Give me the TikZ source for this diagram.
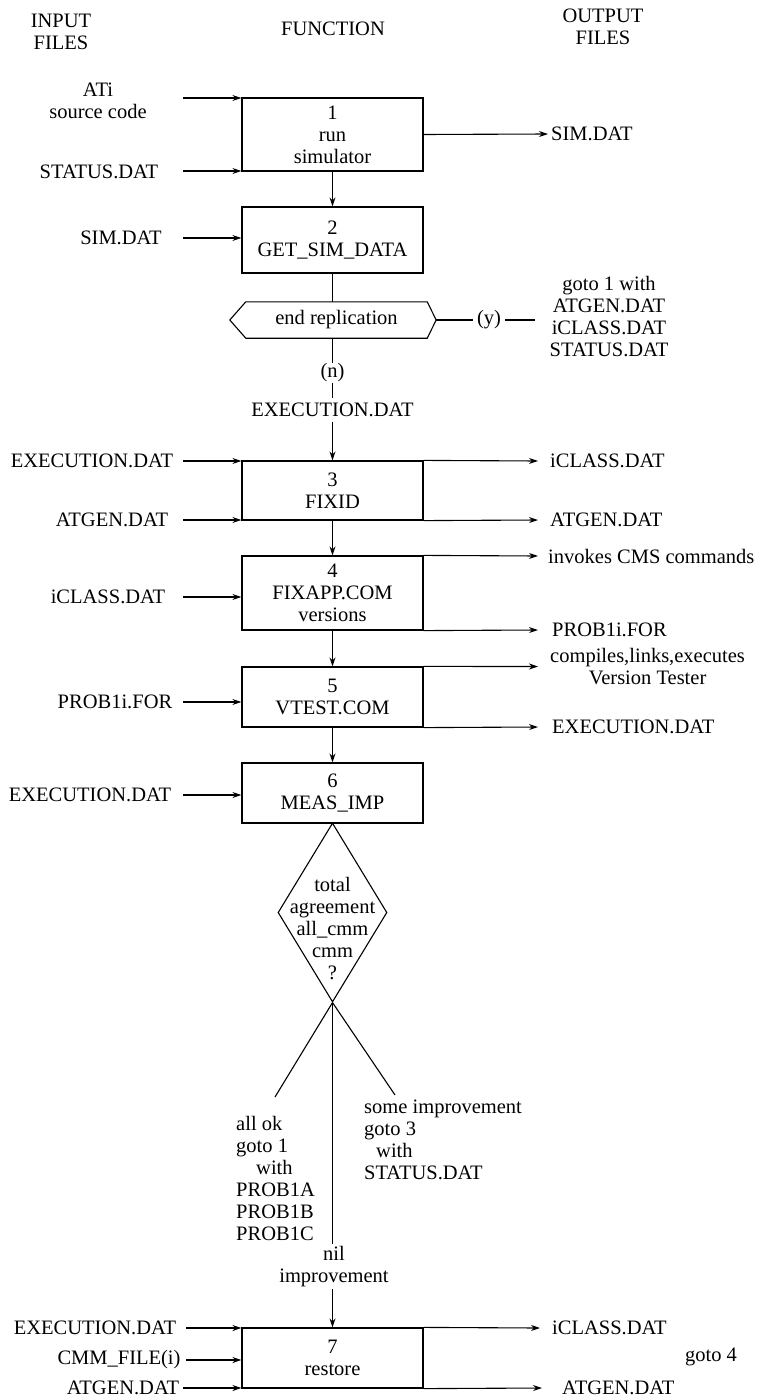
\documentclass[tikz,border=0pt]{standalone}
\usepackage{fontspec}
\setmainfont{Liberation Serif}
\usetikzlibrary{arrows.meta,shapes.geometric,calc}

\begin{document}
\begin{tikzpicture}[x=1pt,y=-1pt,
  every node/.style={font=\fontsize{20.5}{22}\selectfont, inner sep=2pt},
  fbox/.style={draw, line width=1.2pt, minimum width=181pt, align=center, inner sep=0pt},
  flow/.style={line width=1.1pt},
  arr/.style={flow, -{Stealth[length=9pt,width=6pt]}},
  outlbl/.style={anchor=west, inner xsep=12pt, align=center},
  lbl/.style={align=center},
]
\useasboundingbox (0,0) rectangle (756,1399);

% column headings
\node[lbl] (hin)  at (61,31.5)  {INPUT\\FILES};
\node[lbl] (hfn)  at (333,29)   {FUNCTION};
\node[lbl] (hout) at (603,26.5) {OUTPUT\\FILES};

% function boxes
\node[fbox, minimum height=73pt] (b1) at (332.5,134.5) {1\\run\\simulator};
\node[fbox, minimum height=66pt] (b2) at (332.5,240)   {2\\GET\_SIM\_DATA};
\node[fbox, minimum height=59pt] (b3) at (332.5,490.5) {3\\FIXID};
\node[fbox, minimum height=74pt] (b4) at (332.5,593)   {4\\FIXAPP.COM\\versions};
\node[fbox, minimum height=60pt] (b5) at (332.5,697)   {5\\VTEST.COM};
\node[fbox, minimum height=60pt] (b6) at (332.5,793)   {6\\MEAS\_IMP};
\node[fbox, minimum height=60pt] (b7) at (332.5,1358)  {7\\restore};

% replication test (hexagon)
\node[minimum width=181pt, minimum height=36pt, inner sep=0pt] (hex) at (336.5,320) {end replication};
\draw[flow] (hex.north west) -- (hex.north east) -- ($(hex.east)+(9,0)$) coordinate (hexR)
  -- (hex.south east) -- (hex.south west) -- ($(hex.west)+(-16,0)$) -- cycle;
\draw[flow] (b2.south) -- (b2.south |- hex.north);

% yes branch
\node[inner xsep=4pt] (ylab) at (489,320) {(y)};
\coordinate (yend) at (535,320);
\draw[flow] (hexR) -- (ylab.west);
\draw[flow] (ylab.east) -- (yend);
\node[lbl] (ygoto) at (609,316.5) {goto 1 with\\ATGEN.DAT\\iCLASS.DAT\\STATUS.DAT};

% no branch
\node[inner ysep=1pt] (nlab) at (332.5,373) {(n)};
\node[inner ysep=5pt] (exe) at (332.5,410) {EXECUTION.DAT};
\draw[flow] (nlab.north |- hex.south) -- (nlab.north);
\draw[flow] (nlab.south) -- (exe.north);
\draw[arr] (exe.south) -- (b3.north);

% main flow
\draw[arr] (b1.south) -- (b2.north);
\draw[arr] (b3.south) -- (b4.north);
\draw[arr] (b4.south) -- (b5.north);
\draw[arr] (b5.south) -- (b6.north);

% agreement test (diamond)
\node[draw, diamond, flow, minimum width=109pt, minimum height=179pt, inner sep=0pt] (dia) at (332.5,912.5) {};
\node[lbl] (diat) at (332.5,929) {total\\agreement\\all\_cmm\\cmm\\?};

\coordinate (okend) at (275,1097);
\coordinate (someend) at (395,1095);
\draw[flow] (dia.south) -- (okend);
\draw[flow] (dia.south) -- (someend);
\node[align=left, anchor=west] (okt) at (234,1178)
  {all ok\\goto 1\\\hspace{20pt}with\\PROB1A\\PROB1B\\PROB1C};
\node[align=left, anchor=west] (somet) at (362,1140)
  {some improvement\\goto 3\\\hspace{12pt}with\\STATUS.DAT};
\node[lbl] (nil) at (334,1266.5) {nil\\improvement};
\draw[flow] (dia.south) -- (dia.south |- nil.north);
\draw[arr] (nil.south -| b7.north) -- (b7.north);
\node (g4) at (711,1357) {goto 4};

% input files
\node[lbl] (i1a) at (98,100.5) {ATi\\source code};
\node (i1b) at (99,172)  {STATUS.DAT};
\node (i2)  at (121,238) {SIM.DAT};
\node (i3a) at (92,461)  {EXECUTION.DAT};
\node (i3b) at (112,520) {ATGEN.DAT};
\node (i4)  at (108,597) {iCLASS.DAT};
\node (i5)  at (115,702) {PROB1i.FOR};
\node (i6)  at (90,795)  {EXECUTION.DAT};
\node (i7a) at (95,1328) {EXECUTION.DAT};
\node (i7b) at (119,1360) {CMM\_FILE(i)};
\node (i7c) at (123,1388) {ATGEN.DAT};

\coordinate (t1a) at (183,98);
\coordinate (t1b) at (183,171);
\coordinate (t2)  at (183,238);
\coordinate (t3a) at (183,461);
\coordinate (t3b) at (183,520);
\coordinate (t4)  at (183,597);
\coordinate (t5)  at (183,702);
\coordinate (t6)  at (183,795);
\coordinate (t7a) at (186,1328);
\coordinate (t7b) at (186,1360);
\coordinate (t7c) at (183,1388);

\draw[arr] (t1a) -- (t1a -| b1.west);
\draw[arr] (t1b) -- (t1b -| b1.west);
\draw[arr] (t2)  -- (t2 -| b2.west);
\draw[arr] (t3a) -- (t3a -| b3.west);
\draw[arr] (t3b) -- (t3b -| b3.west);
\draw[arr] (t4)  -- (t4 -| b4.west);
\draw[arr] (t5)  -- (t5 -| b5.west);
\draw[arr] (t6)  -- (t6 -| b6.west);
\draw[arr] (t7a) -- (t7a -| b7.west);
\draw[arr] (t7b) -- (t7b -| b7.west);
\draw[arr] (t7c) -- (t7c -| b7.west);

% output files
\node[anchor=west, inner xsep=3pt] (o1) at (548,134) {SIM.DAT};
\node[outlbl] (o3a) at (538,461)   {iCLASS.DAT};
\node[outlbl] (o3b) at (538,520)   {ATGEN.DAT};
\node[outlbl, inner xsep=10pt] (o4a) at (538,556) {invokes CMS commands};
\node[outlbl, inner xsep=14pt] (o4b) at (538,630) {PROB1i.FOR};
\node[outlbl] (o5a) at (538,666.5) {compiles,links,executes\\Version Tester};
\node[outlbl, inner xsep=14pt] (o5b) at (538,727) {EXECUTION.DAT};
\node[outlbl] (o7a) at (540,1328)  {iCLASS.DAT};
\node[outlbl, inner xsep=20pt] (o7b) at (542,1388) {ATGEN.DAT};

\draw[arr] (b1.east) -- (o1.west);
\draw[arr] (b3.north east) -- (o3a.west);
\draw[arr] (b3.south east) -- (o3b.west);
\draw[arr] (b4.north east) -- (o4a.west);
\draw[arr] (b4.south east) -- (o4b.west);
\draw[arr] (b5.north east) -- (o5a.west);
\draw[arr] (b5.south east) -- (o5b.west);
\draw[arr] (b7.north east) -- (o7a.west);
\draw[arr] (b7.south east) -- (o7b.west);
\end{tikzpicture}
\end{document}
